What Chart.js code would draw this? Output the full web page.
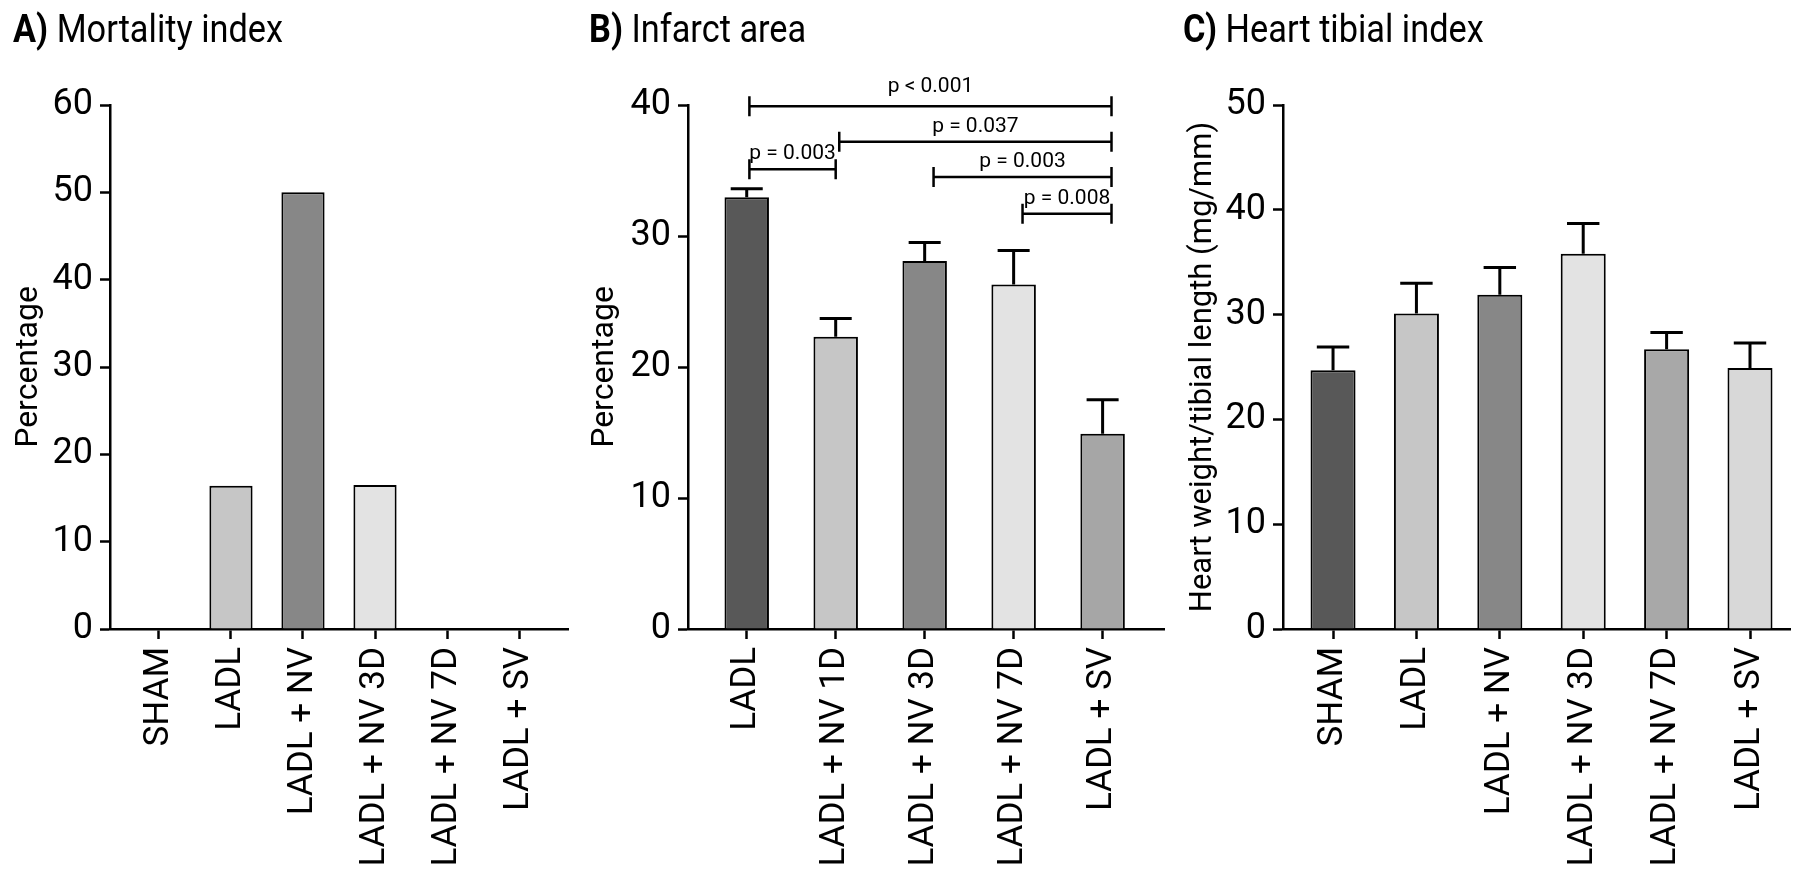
<!DOCTYPE html>
<html>
<head>
<meta charset="utf-8">
<script src="https://cdn.jsdelivr.net/npm/chart.js@4.4.1/dist/chart.umd.min.js"></script>
<style>
  html, body { margin: 0; padding: 0; background: #fff; width: 1800px; height: 884px; overflow: hidden; }
  .panel { position: absolute; top: 0; height: 884px; }
  .ptitle {
    position: absolute; top: 10px; color: #000; white-space: nowrap;
    font-family: Roboto, 'Liberation Sans', sans-serif;
    font-size: 39px; line-height: 39px;
    transform: scaleX(0.88); transform-origin: 0 0;
  }
</style>
</head>
<body>
<div class="panel" style="left:0;width:600px"><canvas id="chartA"></canvas></div>
<div class="panel" style="left:570px;width:610px"><canvas id="chartB"></canvas></div>
<div class="panel" style="left:1170px;width:630px"><canvas id="chartC"></canvas></div>
<div class="ptitle" style="left:13px"><b>A)</b> Mortality index</div>
<div class="ptitle" style="left:589px"><b>B)</b> Infarct area</div>
<div class="ptitle" style="left:1183px"><b>C)</b> Heart tibial index</div>
<script>
const FONT = "Roboto, 'Liberation Sans', sans-serif";
Chart.defaults.font.family = FONT;
Chart.defaults.color = '#000';

// A) mortality index
const mortLabels = ['SHAM', 'LADL', 'LADL + NV', 'LADL + NV 3D', 'LADL + NV 7D', 'LADL + SV'];
const mortValues = [0, 16.4, 50, 16.5, 0, 0];
const mortColors = ['#ffffff', '#c6c6c6', '#878787', '#e3e3e3', '#ffffff', '#ffffff'];

// B) infarct area, mean + SEM
const infLabels = ['LADL', 'LADL + NV 1D', 'LADL + NV 3D', 'LADL + NV 7D', 'LADL + SV'];
const infMeans = [32.95, 22.3, 28.1, 26.3, 14.9];
const infErr = [0.65, 1.4, 1.4, 2.6, 2.6];
const infColors = ['#585858', '#c6c6c6', '#878787', '#e3e3e3', '#a6a6a6'];

// comparisons drawn as brackets over panel B (category positions, y level)
const cmpFrom = [0.03, 0.03, 1.04, 2.1, 3.1];
const cmpTo = [4.1, 1.0, 4.1, 4.1, 4.1];
const cmpLevel = [39.9, 35.1, 37.2, 34.5, 31.7];
const cmpText = ['p < 0.001', 'p = 0.003', 'p = 0.037', 'p = 0.003', 'p = 0.008'];

// C) heart tibial index, mean + SEM
const htiLabels = ['SHAM', 'LADL', 'LADL + NV', 'LADL + NV 3D', 'LADL + NV 7D', 'LADL + SV'];
const htiMeans = [24.7, 30.1, 31.9, 35.8, 26.7, 24.9];
const htiErr = [2.2, 2.9, 2.6, 2.9, 1.6, 2.4];
const htiColors = ['#585858', '#c6c6c6', '#878787', '#e3e3e3', '#a8a8a8', '#d8d8d8'];

const PLOT_TOP = 105;
const PLOT_BOTTOM = 629;
const H = 884;

// upward-only error bars with a cap
const errorBars = {
  id: 'errorBars',
  afterDatasetsDraw(chart, args, opts) {
    if (!opts.err) return;
    const { ctx } = chart;
    const y = chart.scales.y;
    const meta = chart.getDatasetMeta(0);
    const vals = chart.data.datasets[0].data;
    ctx.save();
    ctx.strokeStyle = '#000';
    ctx.lineWidth = 3;
    meta.data.forEach((bar, i) => {
      const top = y.getPixelForValue(vals[i].y + opts.err[i]);
      const half = bar.width * 0.36;
      ctx.beginPath();
      ctx.moveTo(bar.x, bar.y);
      ctx.lineTo(bar.x, top);
      ctx.moveTo(bar.x - half, top);
      ctx.lineTo(bar.x + half, top);
      ctx.stroke();
    });
    ctx.restore();
  }
};

// significance brackets with p-value text
const brackets = {
  id: 'brackets',
  afterDatasetsDraw(chart, args, opts) {
    if (!opts.from) return;
    const { ctx } = chart;
    const { x, y } = chart.scales;
    ctx.save();
    ctx.strokeStyle = '#000';
    ctx.fillStyle = '#000';
    ctx.lineWidth = 2.5;
    ctx.font = '21px ' + FONT;
    ctx.textAlign = 'center';
    ctx.textBaseline = 'alphabetic';
    opts.from.forEach((f, i) => {
      const x1 = x.getPixelForValue(f);
      const x2 = x.getPixelForValue(opts.to[i]);
      const yy = y.getPixelForValue(opts.level[i]);
      ctx.beginPath();
      ctx.moveTo(x1, yy); ctx.lineTo(x2, yy);
      ctx.moveTo(x1, yy - 10); ctx.lineTo(x1, yy + 10);
      ctx.moveTo(x2, yy - 10); ctx.lineTo(x2, yy + 10);
      ctx.stroke();
      ctx.fillText(opts.text[i], (x1 + x2) / 2, yy - (i === 0 ? 14 : 10));
    });
    ctx.restore();
  }
};

function makeChart(id, cfg) {
  return new Chart(document.getElementById(id), {
    type: 'bar',
    data: {
      datasets: [{
        data: cfg.values.map((v, i) => ({ x: i, y: v })),
        backgroundColor: cfg.colors,
        borderColor: '#000',
        borderWidth: 2,
        borderSkipped: 'bottom',
        barPercentage: cfg.barPct,
        categoryPercentage: 1
      }]
    },
    options: {
      responsive: true,
      maintainAspectRatio: false,
      animation: false,
      layout: { padding: { top: PLOT_TOP, right: cfg.padRight, left: 0, bottom: 0 } },
      plugins: {
        legend: { display: false },
        tooltip: { enabled: false },
        errorBars: { err: cfg.err },
        brackets: cfg.brackets || {}
      },
      scales: {
        x: {
          type: 'linear',
          min: cfg.xMin,
          max: cfg.xMax,
          offset: false,
          afterBuildTicks: s => { s.ticks = cfg.labels.map((_, i) => ({ value: i })); },
          afterFit: s => { s.height = H - PLOT_BOTTOM; },
          ticks: {
            callback: v => cfg.labels[v],
            minRotation: 90, maxRotation: 90, autoSkip: false,
            font: { size: 35 }, padding: 8, color: '#000'
          },
          grid: { offset: false, drawOnChartArea: false, drawTicks: true, tickLength: 10, tickWidth: 2.5, tickColor: '#000' },
          border: { display: true, color: '#000', width: 2.5 }
        },
        y: {
          min: 0,
          max: cfg.yMax,
          afterFit: s => { s.width = cfg.yWidth; },
          ticks: { stepSize: 10, font: { size: 36 }, padding: 7, color: '#000' },
          title: {
            display: true, text: cfg.yTitle, color: '#000',
            font: { size: cfg.titleSize }, padding: { top: cfg.titlePad, bottom: 0 }
          },
          grid: { drawOnChartArea: false, drawTicks: true, tickLength: 10, tickWidth: 2.5, tickColor: '#000' },
          border: { display: true, color: '#000', width: 2.5 }
        }
      }
    },
    plugins: [errorBars, brackets]
  });
}

makeChart('chartA', {
  labels: mortLabels, values: mortValues, colors: mortColors,
  barPct: 0.6, xMin: -0.68, xMax: 5.68, yMax: 60,
  yWidth: 110, padRight: 32, yTitle: 'Percentage', titleSize: 32, titlePad: 10
});

makeChart('chartB', {
  labels: infLabels, values: infMeans, colors: infColors, err: infErr,
  barPct: 0.5, xMin: -0.66, xMax: 4.69, yMax: 40,
  yWidth: 118, padRight: 16, yTitle: 'Percentage', titleSize: 32, titlePad: 16,
  brackets: { from: cmpFrom, to: cmpTo, level: cmpLevel, text: cmpText }
});

makeChart('chartC', {
  labels: htiLabels, values: htiMeans, colors: htiColors, err: htiErr,
  barPct: 0.54, xMin: -0.6, xMax: 5.48, yMax: 50,
  yWidth: 113, padRight: 0, yTitle: 'Heart weight/tibial length (mg/mm)', titleSize: 31, titlePad: 15
});
</script>
</body>
</html>
